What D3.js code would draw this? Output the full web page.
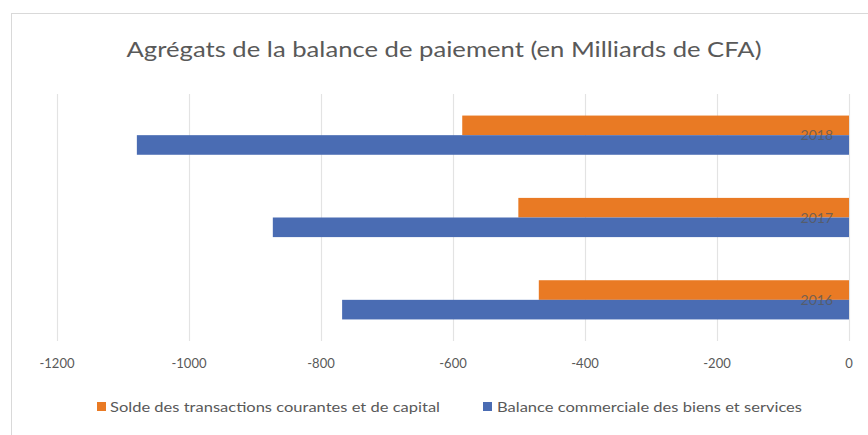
<!DOCTYPE html>
<html>
<head>
<meta charset="utf-8">
<script src="https://cdn.jsdelivr.net/npm/d3@7"></script>
<style>
  html, body { margin: 0; padding: 0; background: #fff; }
  svg { display: block; font-family: Lato, "Open Sans", sans-serif; }
</style>
</head>
<body>
<div id="chart"></div>
<script>
// values
const years = ['2018', '2017', '2016'];
const solde = [-586, -501, -470];      // Solde des transactions courantes et de capital
const balance = [-1079, -873, -768];   // Balance commerciale des biens et services
const ticks = [-1200, -1000, -800, -600, -400, -200, 0];
const seriesNames = ['Solde des transactions courantes et de capital', 'Balance commerciale des biens et services'];
const seriesColors = ['#E97A24', '#4A6CB3'];

const W = 868, H = 435;
const svg = d3.select('#chart').append('svg').attr('width', W).attr('height', H);

// chart frame
svg.append('rect').attr('x', 11.5).attr('y', 13.5).attr('width', 870).attr('height', 440)
  .attr('fill', '#fff').attr('stroke', '#d9d9d9');

svg.append('text').attr('x', 444).attr('y', 57).attr('text-anchor', 'middle')
  .attr('fill', '#595959').style('font-size', '22px')
  .attr('textLength', 635).attr('lengthAdjust', 'spacingAndGlyphs')
  .text('Agrégats de la balance de paiement (en Milliards de CFA)');

const x = d3.scaleLinear().domain([-1200, 0]).range([57, 849]);
const y = d3.scaleBand().domain(years).range([94, 341]);
const groupH = y.bandwidth() / 2.1;
const sub = d3.scaleBand().domain([0, 1]).range([0, groupH]);

// gridlines
svg.append('g').selectAll('line').data(ticks).join('line')
  .attr('x1', d => x(d) + 0.5).attr('x2', d => x(d) + 0.5)
  .attr('y1', 94).attr('y2', 341)
  .attr('stroke', '#e3e3e3').attr('stroke-width', 1.2);

// tick labels
svg.append('g').selectAll('text').data(ticks).join('text')
  .attr('x', d => x(d)).attr('y', 368).attr('text-anchor', 'middle')
  .attr('fill', '#595959').style('font-size', '13px')
  .text(d => d3.format('d')(d).replace('−', '-'));

const rows = years.map((yr, i) => ({ yr, vals: [solde[i], balance[i]] }));
const g = svg.append('g').selectAll('g').data(rows).join('g')
  .attr('transform', d => `translate(0,${y(d.yr) + (y.bandwidth() - groupH) / 2})`);

g.selectAll('rect').data(d => d.vals.map((v, k) => ({ v, k }))).join('rect')
  .attr('x', d => x(d.v)).attr('width', d => x(0) - x(d.v))
  .attr('y', d => sub(d.k)).attr('height', sub.bandwidth())
  .attr('fill', d => seriesColors[d.k]);

// category labels drawn at the zero axis, over the bars
svg.append('g').selectAll('text').data(years).join('text')
  .attr('x', x(0) - 16).attr('y', d => y(d) + y.bandwidth() / 2 + 5)
  .attr('text-anchor', 'end').attr('fill', '#595959').attr('fill-opacity', 0.8)
  .style('font-size', '14px').text(d => d);

// legend
const legendPos = [{ sx: 97, tx: 110, len: 330 }, { sx: 483, tx: 497, len: 305 }];
const lg = svg.append('g').selectAll('g').data(seriesNames).join('g');
lg.append('rect').attr('x', (d, i) => legendPos[i].sx).attr('y', 402)
  .attr('width', 9).attr('height', 9).attr('fill', (d, i) => seriesColors[i]);
lg.append('text').attr('x', (d, i) => legendPos[i].tx).attr('y', 411.5)
  .attr('fill', '#595959').style('font-size', '13px')
  .attr('textLength', (d, i) => legendPos[i].len).attr('lengthAdjust', 'spacingAndGlyphs')
  .text(d => d);
</script>
</body>
</html>
